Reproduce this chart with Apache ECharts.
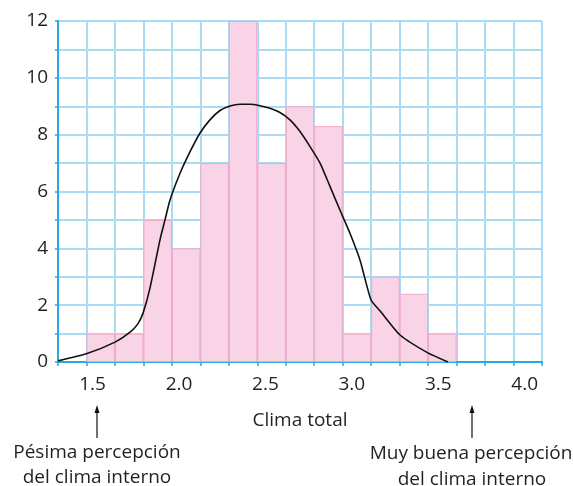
<!DOCTYPE html>
<html>
<head>
<meta charset="utf-8">
<script src="https://cdn.jsdelivr.net/npm/echarts@6/dist/echarts.min.js"></script>
<style>html,body{margin:0;padding:0;background:#fff}#c{width:573px;height:486px}</style>
</head>
<body>
<div id="c"></div>
<script>
// Histogram bins (17 bins between 1.3 and 4.1)
var binLabels = ['b1','b2','b3','b4','b5','b6','b7','b8','b9','b10','b11','b12','b13','b14','b15','b16','b17'];
var counts = [0, 1, 1, 5, 4, 7, 12, 7, 9, 8.3, 1, 3, 2.4, 1, 0, 0, 0];
// Fitted curve
var curveX = [1.300, 1.468, 1.630, 1.717, 1.763, 1.792, 1.832, 1.890, 1.919, 1.948, 2.006, 2.064, 2.121, 2.179, 2.237, 2.295, 2.353, 2.411, 2.469, 2.526, 2.584, 2.642, 2.700, 2.758, 2.816, 2.874, 2.931, 2.989, 3.047, 3.111, 3.163, 3.279, 3.440, 3.556];
var curveY = [0.04, 0.3, 0.7, 1.05, 1.35, 1.72, 2.6, 4.3, 5.0, 5.7, 6.64, 7.4, 8.05, 8.52, 8.85, 9.01, 9.07, 9.07, 9.02, 8.93, 8.78, 8.52, 8.11, 7.58, 7.0, 6.17, 5.35, 4.53, 3.59, 2.18, 1.8, 0.95, 0.32, 0.0];
var xTickValues = [1.5, 2.0, 2.5, 3.0, 3.5, 4.0];
var yTickValues = [0, 2, 4, 6, 8, 10, 12];

var FONT = 'Open Sans';
var FS = 19;
var TXT = '#231f20';
var chart = echarts.init(document.getElementById('c'), null, {renderer: 'canvas'});
var curveData = curveX.map(function (x, i) { return [x, curveY[i]]; });
var barData = counts.map(function (v) { return v === 0 ? '-' : v; });
var font = FS + 'px "' + FONT + '"';

chart.setOption({
  animation: false,
  grid: {left: 58, right: 31, top: 21, bottom: 124},
  xAxis: [{
    type: 'category',
    data: binLabels,
    boundaryGap: true,
    axisLine: {show: true, lineStyle: {color: '#29a9e1', width: 2}},
    axisTick: {show: true, length: 4, alignWithLabel: false, lineStyle: {color: '#29a9e1', width: 1.5}},
    axisLabel: {show: false},
    splitLine: {show: true, lineStyle: {color: '#a9dcf4', width: 2}}
  }, {
    type: 'value',
    min: 1.3,
    max: 4.1,
    position: 'bottom',
    axisLine: {show: false},
    axisTick: {show: false},
    splitLine: {show: false},
    axisLabel: {
      show: true,
      customValues: xTickValues,
      margin: 13,
      fontSize: FS,
      fontFamily: FONT,
      color: TXT,
      formatter: function (v) { return Number(v).toFixed(1); }
    },
    name: 'Clima total',
    nameLocation: 'middle',
    nameGap: 49,
    nameTextStyle: {fontSize: FS, fontFamily: FONT, color: TXT}
  }],
  yAxis: {
    type: 'value',
    min: 0,
    max: 12,
    interval: 1,
    axisLine: {show: true, lineStyle: {color: '#29a9e1', width: 2}},
    axisTick: {show: true, length: 3, lineStyle: {color: '#29a9e1', width: 1.5}},
    splitLine: {show: true, lineStyle: {color: '#a9dcf4', width: 2}},
    axisLabel: {
      margin: 10,
      fontSize: FS,
      fontFamily: FONT,
      color: TXT,
      formatter: function (v) { return yTickValues.indexOf(v) >= 0 ? String(v) : ''; }
    }
  },
  series: [{
    type: 'bar',
    xAxisIndex: 0,
    data: barData,
    barWidth: '100%',
    itemStyle: {color: '#f9d4e6', borderColor: '#f2a7c9', borderWidth: 1}
  }, {
    type: 'line',
    xAxisIndex: 1,
    data: curveData,
    smooth: 0.2,
    showSymbol: false,
    lineStyle: {color: '#111', width: 1.6},
    z: 5
  }],
  graphic: [
    {type: 'line', shape: {x1: 97, y1: 438, x2: 97, y2: 410}, style: {stroke: '#111', lineWidth: 1.2}},
    {type: 'polygon', shape: {points: [[97, 405], [94.5, 413], [99.5, 413]]}, style: {fill: '#111'}},
    {type: 'text', x: 97, y: 453, style: {text: 'Pésima percepción', font: font, fill: TXT, align: 'center', verticalAlign: 'middle'}},
    {type: 'text', x: 97, y: 478, style: {text: 'del clima interno', font: font, fill: TXT, align: 'center', verticalAlign: 'middle'}},
    {type: 'line', shape: {x1: 472, y1: 438, x2: 472, y2: 410}, style: {stroke: '#111', lineWidth: 1.2}},
    {type: 'polygon', shape: {points: [[472, 405], [469.5, 413], [474.5, 413]]}, style: {fill: '#111'}},
    {type: 'text', x: 471, y: 454, style: {text: 'Muy buena percepción', font: font, fill: TXT, align: 'center', verticalAlign: 'middle'}},
    {type: 'text', x: 472, y: 480, style: {text: 'del clima interno', font: font, fill: TXT, align: 'center', verticalAlign: 'middle'}}
  ]
});
</script>
</body>
</html>
